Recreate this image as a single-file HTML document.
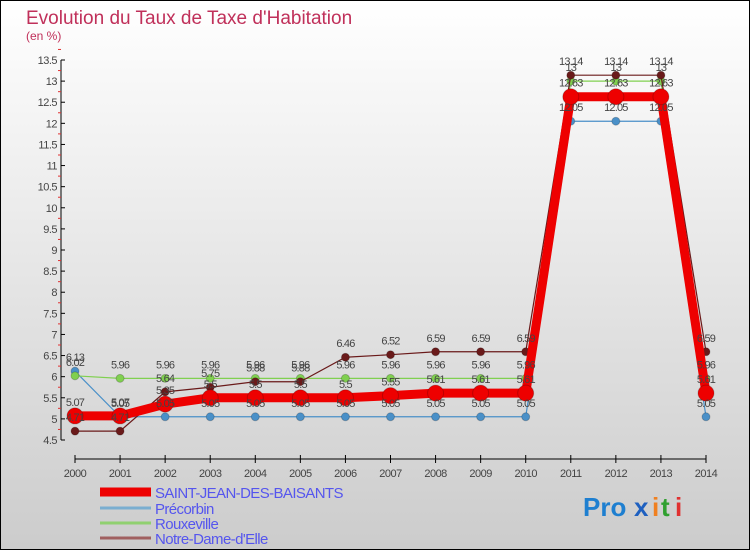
<!DOCTYPE html>
<html><head><meta charset="utf-8"><style>
body{margin:0}
#wrap{width:750px;height:550px;position:relative;overflow:hidden}
text{font-family:"Liberation Sans",sans-serif}
</style></head><body>
<div id="wrap">
<svg id="chart" width="750" height="550" xmlns="http://www.w3.org/2000/svg">
<defs><linearGradient id="bg" x1="0" y1="0" x2="0" y2="1"><stop offset="0" stop-color="#ffffff"/><stop offset="1" stop-color="#cccccc"/></linearGradient></defs>
<rect x="0.5" y="0.5" width="749" height="549" fill="url(#bg)" stroke="#000"/>
<text x="26" y="24" font-size="19" fill="#c0305a">Evolution du Taux de Taxe d'Habitation</text>
<text x="26" y="40" font-size="12" fill="#c0305a">(en %)</text>
<g id="axes"></g>
<g id="series"></g>
<g id="legend"></g>
<g font-size="26" font-weight="bold">
<text x="583" y="516" fill="#1e7fd0">Pro</text><text x="634" y="516" fill="#1e60c0">x</text><text x="652" y="516" fill="#f08020">i</text><text x="661" y="516" fill="#30a030">t</text><text x="675" y="516" fill="#e03030">i</text>
</g>
</svg>
</div>
<script>
const years=[2000,2001,2002,2003,2004,2005,2006,2007,2008,2009,2010,2011,2012,2013,2014];
const yTicks=[4.5,5,5.5,6,6.5,7,7.5,8,8.5,9,9.5,10,10.5,11,11.5,12,12.5,13,13.5];
const seriesNames=["SAINT-JEAN-DES-BAISANTS","Précorbin","Rouxeville","Notre-Dame-d'Elle"];
const saintJean=[5.07,5.07,5.35,5.5,5.5,5.5,5.5,5.55,5.61,5.61,5.61,12.63,12.63,12.63,5.61];
const precorbin=[6.13,5.05,5.05,5.05,5.05,5.05,5.05,5.05,5.05,5.05,5.05,12.05,12.05,12.05,5.05];
const rouxeville=[6.02,5.96,5.96,5.96,5.96,5.96,5.96,5.96,5.96,5.96,5.96,13,13,13,5.96];
const notreDame=[4.71,4.71,5.64,5.75,5.88,5.88,6.46,6.52,6.59,6.59,6.59,13.14,13.14,13.14,6.59];

const NS="http://www.w3.org/2000/svg";
const x0=75,x1=706,yTop=60,yBot=440,vMin=4.5,vMax=13.5;
const xs=i=>x0+(x1-x0)*i/(years.length-1);
const ys=v=>yBot-(v-vMin)/(vMax-vMin)*(yBot-yTop);
function mk(tag,attrs,parent){const e=document.createElementNS(NS,tag);for(const k in attrs)e.setAttribute(k,attrs[k]);parent.appendChild(e);return e;}
const axes=document.getElementById('axes');
let yl=mk('line',{x1:61,y1:yTop,x2:61,y2:yBot,stroke:'#000'},axes);


yTicks.forEach(t=>{
  const y=ys(t);
  mk('line',{x1:61,y1:y,x2:65,y2:y,stroke:'#000'},axes);
  mk('line',{x1:58,y1:ys(t+0.25),x2:61,y2:ys(t+0.25),stroke:'#e03030'},axes);
  const tx=mk('text',{x:57,y:y+4,'font-size':11,'text-anchor':'end',fill:'#444','letter-spacing':'-0.5'},axes);
  tx.textContent=String(t);
  
  
});
let xl=mk('line',{x1:x0,y1:459,x2:x1,y2:459,stroke:'#000'},axes);


years.forEach((yr,i)=>{
  mk('line',{x1:xs(i),y1:455,x2:xs(i),y2:463,stroke:'#000'},axes);
  const tx=mk('text',{x:xs(i),y:477,'font-size':11,'text-anchor':'middle',fill:'#444','letter-spacing':'-0.5'},axes);
  tx.textContent=String(yr);
  
  
});
const g=document.getElementById('series');
const defs=[
 {d:precorbin,c:'#4a90c8',w:1.2,r:4,n:'precorbin'},
 {d:rouxeville,c:'#80d050',w:1.2,r:4,n:'rouxeville'},
 {d:notreDame,c:'#6a1a1a',w:1.2,r:4,n:'notre-dame-d-elle'},
 {d:saintJean,c:'#ee0000',w:9,r:8,n:'saint-jean-des-baisants'}
];
defs.forEach(s=>{
  const pts=s.d.map((v,i)=>xs(i)+','+ys(v)).join(' ');
  const pl=mk('polyline',{points:pts,fill:'none',stroke:s.c,'stroke-width':s.w},g);
  
  
  s.d.forEach((v,i)=>{
    const c=mk('circle',{cx:xs(i),cy:ys(v),r:s.r,fill:s.c,stroke:'rgba(0,0,0,0.2)'},g);
    
    
  });
});
defs.forEach(s=>{
  s.d.forEach((v,i)=>{
    const t=mk('text',{x:xs(i),y:ys(v)-10,'font-size':11,'text-anchor':'middle',fill:'#444','letter-spacing':'-0.8'},g);
    t.textContent=String(v);
    
    
  });
});
const lg=document.getElementById('legend');
const lc=['#ee0000','#7aaed0','#90d070','#a06060'],lw=[9,3,3,3],ly=[492,508,523,538];
seriesNames.forEach((n,i)=>{
  const l=mk('line',{x1:100,y1:ly[i],x2:151,y2:ly[i],stroke:lc[i],'stroke-width':lw[i]},lg);
  
  
  const t=mk('text',{x:155,y:ly[i]+6,'font-size':15,fill:'#5555ee','letter-spacing':'-0.6'},lg);
  t.textContent=n;
  
  
});
</script>
</body></html>
